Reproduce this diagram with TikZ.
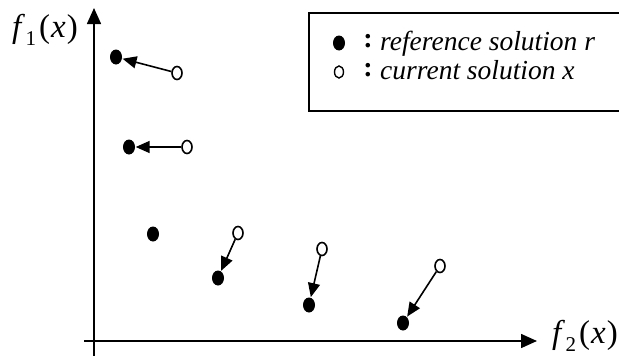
\documentclass[tikz,border=0pt]{standalone}
\usepackage{fontspec}
\setmainfont{Liberation Serif}
\usetikzlibrary{arrows.meta,shapes.geometric}
\newcommand{\axlab}[1]{\textit{f}\kern0.5pt\raisebox{-0.25em}{\fontsize{21}{22}\selectfont #1}\kern3pt(\kern1pt\textit{x}\kern1pt)}
\begin{document}
\begin{tikzpicture}[x=1pt,y=-1pt,
  refpt/.style={ellipse,fill=black,minimum width=12pt,minimum height=15pt,inner sep=0pt},
  curpt/.style={ellipse,draw=black,line width=1.6pt,fill=white,minimum width=10pt,minimum height=13pt,inner sep=0pt},
  axis/.style={line width=1.6pt,-{Triangle[length=16pt,width=14pt]}},
  move/.style={line width=1.6pt,-{Triangle[length=14pt,width=12pt]},shorten >=0.5pt},
  axlbl/.style={font=\fontsize{33}{36}\selectfont,inner sep=0pt,anchor=base west},
  lbl/.style={font=\fontsize{27.5}{30}\selectfont\itshape,inner sep=0pt,anchor=base west}]
\useasboundingbox (0,0) rectangle (619,356);
\clip (0,0) rectangle (619,356);
% axes
\coordinate (ybot) at (94,358);
\coordinate (ytop) at (94,8);
\coordinate (xl) at (84,341);
\coordinate (xr) at (537,341);
\draw[axis] (ybot) -- (ytop);
\draw[axis] (xl) -- (xr);
\node[axlbl] (f1) at (12,37) {\axlab{1}};
\node[axlbl] (f2) at (552,343) {\axlab{2}};
% legend
\draw[line width=1.5pt] (309,13) rectangle (640,111);
\node[refpt] (lr) at (339,43) {};
\node[curpt,minimum width=9pt,minimum height=12pt,line width=1.4pt] (lc) at (339,72) {};
\node[font=\fontsize{28}{30}\selectfont\bfseries,inner sep=0pt] (c1) at (368,41) {:};
\node[font=\fontsize{28}{30}\selectfont\bfseries,inner sep=0pt] (c2) at (368,70) {:};
\node[lbl] (t1) at (380,50) {reference solution r};
\node[lbl] (t2) at (380,79) {current solution x};
% points
\node[refpt] (r1) at (116,57) {};
\node[refpt] (r2) at (129,147) {};
\node[refpt] (r3) at (153,234) {};
\node[refpt] (r4) at (218,278) {};
\node[refpt] (r5) at (309,305) {};
\node[refpt] (r6) at (403,323) {};
\node[curpt] (c1p) at (177,73) {};
\node[curpt] (c2p) at (187,147) {};
\node[curpt] (c3p) at (238,233) {};
\node[curpt] (c4p) at (322,249) {};
\node[curpt] (c5p) at (440,266) {};
\draw[move] (c1p) -- (r1);
\draw[move] (c2p) -- (r2);
\draw[move] (c3p) -- (r4);
\draw[move] (c4p) -- (r5);
\draw[move] (c5p) -- (r6);
\end{tikzpicture}
\end{document}
